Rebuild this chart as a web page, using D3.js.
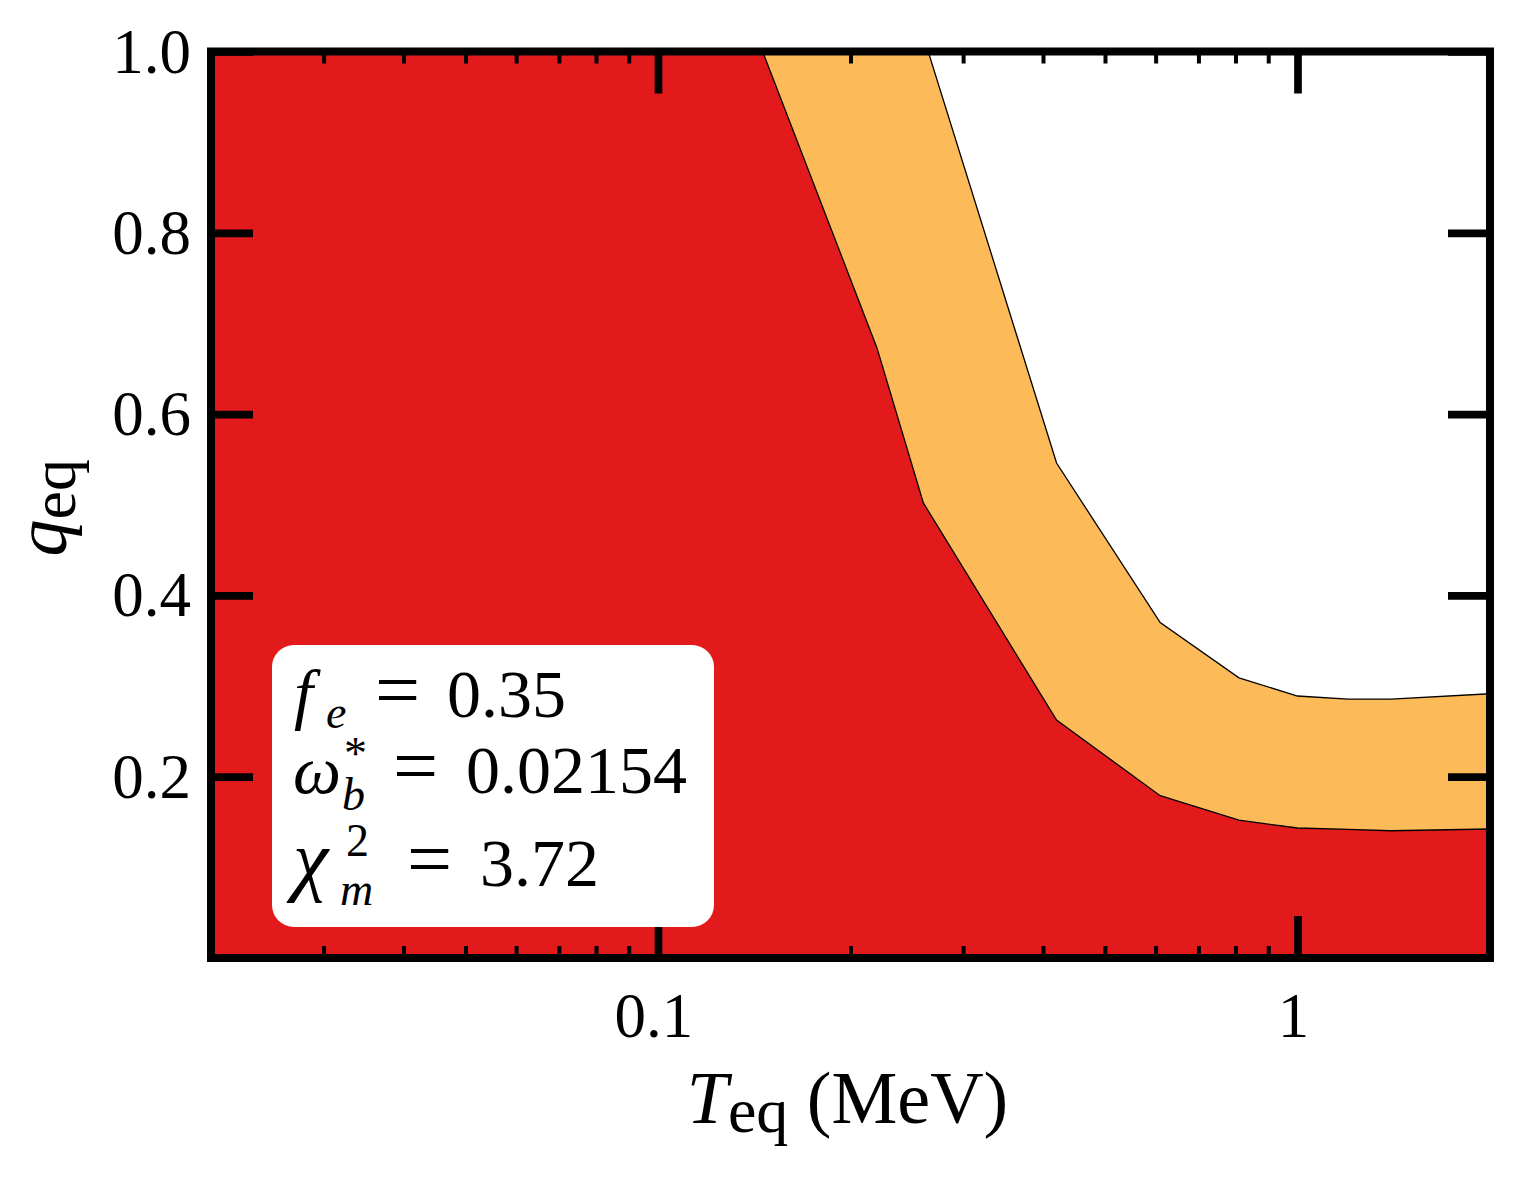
<!DOCTYPE html>
<html>
<head>
<meta charset="utf-8">
<script src="https://cdn.jsdelivr.net/npm/d3@7"></script>
<style>
  html, body { margin: 0; padding: 0; background: #ffffff; }
  svg { display: block; }
  text { font-family: "Liberation Serif", "DejaVu Serif", serif; fill: #000; }
</style>
</head>
<body>
<svg id="chart" width="1519" height="1179"></svg>
<script>
// ---- data ----
const temperatures = [0.02, 0.14, 0.22, 0.26, 0.42, 0.61, 0.81, 1.0, 1.2, 1.4, 2.0];   // T_eq (MeV)
const lowerBound   = [1.60, 1.032, 0.673, 0.502, 0.2625, 0.179, 0.152, 0.1434, 0.142, 0.1404, 0.1423]; // red / orange edge
const upperBound   = [2.00, 1.45, 1.18, 1.017, 0.546, 0.370, 0.309, 0.289, 0.2855, 0.2855, 0.2915];   // orange / white edge
const xMajorTicks  = [0.1, 1];
const xMajorLabels = ["0.1", "1"];
const xMinorTicks  = [0.03,0.04,0.05,0.06,0.07,0.08,0.09,0.2,0.3,0.4,0.5,0.6,0.7,0.8,0.9];
const yTicks       = [0.2, 0.4, 0.6, 0.8, 1.0];
const yTickLabels  = ["0.2", "0.4", "0.6", "0.8", "1.0"];
const xDomain = [0.02, 2];
const yDomain = [0, 1];

const rows = temperatures.map((t, i) => ({ T: t, lo: lowerBound[i], hi: upperBound[i] }));

// ---- layout ----
const svgW = 1519, svgH = 1179;
const margin = { left: 211, top: 51.5, right: 29, bottom: 221 };
const W = svgW - margin.left - margin.right;
const H = svgH - margin.top - margin.bottom;

const svg = d3.select("#chart");
svg.append("rect").attr("width", svgW).attr("height", svgH).attr("fill", "#ffffff");
const g = svg.append("g").attr("transform", `translate(${margin.left},${margin.top})`);

const x = d3.scaleLog().domain(xDomain).range([0, W]);
const y = d3.scaleLinear().domain(yDomain).range([H, 0]);

g.append("clipPath").attr("id", "plotclip")
  .append("rect").attr("x", 0).attr("y", 0).attr("width", W).attr("height", H);

const plot = g.append("g").attr("clip-path", "url(#plotclip)");

const red = "#e31a1c", orange = "#fdba58";

plot.append("path").datum(rows)
  .attr("d", d3.area().x(d => x(d.T)).y0(y(0)).y1(d => y(d.lo)))
  .attr("fill", red);
plot.append("path").datum(rows)
  .attr("d", d3.area().x(d => x(d.T)).y0(d => y(d.lo)).y1(d => y(d.hi)))
  .attr("fill", orange);

const line = key => d3.line().x(d => x(d.T)).y(d => y(d[key]));
plot.append("path").datum(rows).attr("d", line("lo"))
  .attr("fill", "none").attr("stroke", "#000").attr("stroke-width", 1.3);
plot.append("path").datum(rows).attr("d", line("hi"))
  .attr("fill", "none").attr("stroke", "#000").attr("stroke-width", 1.3);

// ---- ticks (inward, all four sides) ----
const majorLen = 42, minorLen = 12;
function styleAxis(sel, width) {
  sel.select(".domain").remove();
  sel.selectAll(".tick line").attr("stroke", "#000").attr("stroke-width", width);
  sel.selectAll(".tick text").remove();
}
g.append("g").attr("transform", `translate(0,${H})`)
  .call(d3.axisBottom(x).tickValues(xMajorTicks).tickSizeInner(-majorLen).tickSizeOuter(0))
  .call(s => styleAxis(s, 7.7));
g.append("g").attr("transform", `translate(0,${H})`)
  .call(d3.axisBottom(x).tickValues(xMinorTicks).tickSizeInner(-minorLen).tickSizeOuter(0))
  .call(s => styleAxis(s, 4));
g.append("g")
  .call(d3.axisTop(x).tickValues(xMajorTicks).tickSizeInner(-majorLen).tickSizeOuter(0))
  .call(s => styleAxis(s, 7.7));
g.append("g")
  .call(d3.axisTop(x).tickValues(xMinorTicks).tickSizeInner(-minorLen).tickSizeOuter(0))
  .call(s => styleAxis(s, 4));
g.append("g")
  .call(d3.axisLeft(y).tickValues(yTicks).tickSizeInner(-majorLen).tickSizeOuter(0))
  .call(s => styleAxis(s, 7.7));
g.append("g").attr("transform", `translate(${W},0)`)
  .call(d3.axisRight(y).tickValues(yTicks).tickSizeInner(-majorLen).tickSizeOuter(0))
  .call(s => styleAxis(s, 7.7));

// frame
g.append("rect").attr("x", 0).attr("y", 0).attr("width", W).attr("height", H)
  .attr("fill", "none").attr("stroke", "#000").attr("stroke-width", 8);

// ---- tick labels ----
const tickFont = 63;
g.selectAll(".xlab").data(xMajorTicks).enter().append("text")
  .attr("class", "xlab")
  .attr("x", d => x(d) - 4).attr("y", H + 79)
  .attr("text-anchor", "middle").attr("font-size", tickFont)
  .text((d, i) => xMajorLabels[i]);
g.selectAll(".ylab").data(yTicks).enter().append("text")
  .attr("class", "ylab")
  .attr("x", -20).attr("y", d => y(d) + 21)
  .attr("text-anchor", "end").attr("font-size", tickFont)
  .text((d, i) => yTickLabels[i]);

// ---- axis labels ----
const labFont = 74, labSub = 64;
const xl = svg.append("text")
  .attr("x", margin.left + W / 2 - 3).attr("y", 1123)
  .attr("text-anchor", "middle").attr("font-size", labFont);
xl.append("tspan").attr("font-style", "italic").text("T");
xl.append("tspan").attr("font-size", labSub).attr("dy", 9).text("eq");
xl.append("tspan").attr("dy", -9).text("\u00a0(MeV)");

const yl = svg.append("text")
  .attr("transform", `translate(66,${margin.top + H / 2 + 3}) rotate(-90)`)
  .attr("text-anchor", "middle").attr("font-size", labFont);
yl.append("tspan").attr("font-style", "italic").text("q");
yl.append("tspan").attr("font-size", labSub).attr("dy", 9).text("eq");

// ---- annotation box ----
const box = svg.append("g").attr("transform", "translate(272,645)");
box.append("rect").attr("width", 442).attr("height", 282).attr("rx", 22).attr("ry", 22)
  .attr("fill", "#ffffff");
const fs = 68, small = 46, eqFs = 80;
// line 1: f_e = 0.35
const t1 = box.append("text").attr("y", 72).attr("font-size", fs);
t1.append("tspan").attr("x", 22).attr("font-style", "italic").text("f");
t1.append("tspan").attr("x", 54).attr("font-style", "italic").attr("font-size", small).attr("dy", 11).text("e");
t1.append("tspan").attr("x", 103).attr("dy", -11).attr("font-size", eqFs).text("=");
t1.append("tspan").attr("x", 175).text("0.35");
// line 2: omega_b^* = 0.02154
const t2 = box.append("text").attr("y", 148).attr("font-size", fs);
t2.append("tspan").attr("x", 21).attr("font-style", "italic").text("\u03c9");
t2.append("tspan").attr("x", 72).attr("font-size", small).attr("dy", -24).text("*");
t2.append("tspan").attr("x", 70).attr("font-style", "italic").attr("font-size", small).attr("dy", 41).text("b");
t2.append("tspan").attr("x", 121).attr("dy", -17).attr("font-size", eqFs).text("=");
t2.append("tspan").attr("x", 194).text("0.02154");
// line 3: chi_m^2 = 3.72
const t3 = box.append("text").attr("y", 241).attr("font-size", fs);
t3.append("tspan").attr("x", 21).attr("font-style", "italic").attr("font-size", 80).text("\u03c7");
t3.append("tspan").attr("x", 74).attr("font-size", small).attr("dy", -30).text("2");
t3.append("tspan").attr("x", 68).attr("font-style", "italic").attr("font-size", small).attr("dy", 49).text("m");
t3.append("tspan").attr("x", 135).attr("dy", -19).attr("font-size", eqFs).text("=");
t3.append("tspan").attr("x", 208).text("3.72");
</script>
</body>
</html>
